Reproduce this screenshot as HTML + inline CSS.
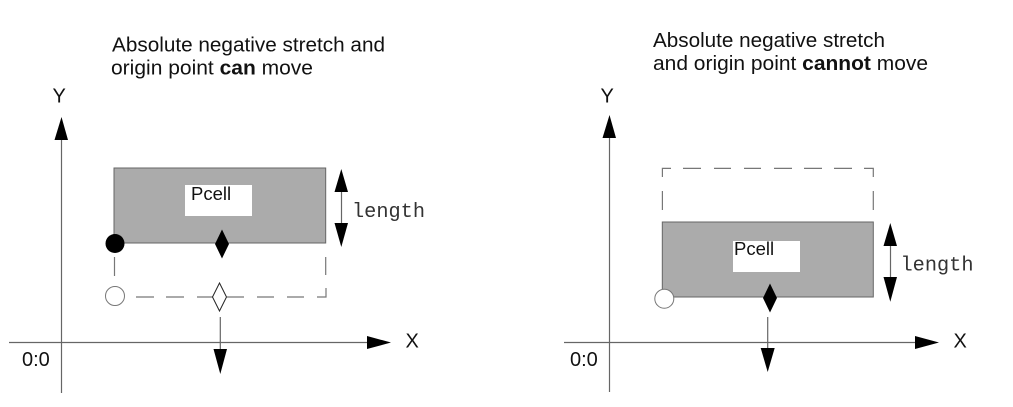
<!DOCTYPE html>
<html>
<head>
<meta charset="utf-8">
<style>
html,body{margin:0;padding:0;background:#fff;}
svg{display:block;}
text{font-family:"Liberation Sans",Arial,sans-serif;fill:#111;}
.m{font-family:"Liberation Mono",monospace;font-size:20px;fill:#333;}
.l{stroke:#666;stroke-width:1.2;fill:none;}
.d{stroke:#777;stroke-width:1.2;fill:none;}
</style>
</head>
<body>
<svg width="1013" height="407" viewBox="0 0 1013 407" xmlns="http://www.w3.org/2000/svg">
<rect width="1013" height="407" fill="#fff"/>

<!-- LEFT -->
<text x="112" y="51.5" font-size="20" textLength="273" lengthAdjust="spacingAndGlyphs">Absolute negative stretch and</text>
<text x="111" y="74.5" font-size="20" textLength="202" lengthAdjust="spacingAndGlyphs">origin point <tspan font-weight="bold">can</tspan> move</text>
<text x="52.500" y="102.500" font-size="20">Y</text>
<text x="405.500" y="347.500" font-size="20">X</text>
<text x="22" y="366" font-size="20">0:0</text>

<path class="l" d="M61.500 140V393M9 342.500H368"/>
<polygon points="61.500,117 54.500,140 68,140" fill="#000"/>
<polygon points="391,342.500 367,336 367,349" fill="#000"/>

<rect x="114" y="168" width="211.700" height="75" fill="#ababab" stroke="#666" stroke-width="1"/>
<rect x="185" y="185" width="67" height="31" fill="#fff"/>
<text x="191" y="200" font-size="18.500">Pcell</text>

<path class="d" d="M114.500 257V276M136 297H154M166 297H184M197 297H213M227 297H244M257 297H274M287 297H304M317 297H326V288M325.700 275V257"/>
<circle cx="115" cy="243.500" r="9.500" fill="#000"/>
<circle cx="115" cy="296" r="9.500" fill="#fff" stroke="#777" stroke-width="1"/>
<polygon points="222,229.500 229,244 222,258.500 215,244" fill="#000"/>
<polygon points="219.500,283 226.500,297 219.500,311 212.500,297" fill="#fff" stroke="#222" stroke-width="1"/>
<path class="l" d="M220.300 317V350"/>
<polygon points="220.300,374 213.500,349 227,349" fill="#000"/>

<path class="l" d="M341.500 192V223"/>
<polygon points="341.300,169 334.500,192 348,192" fill="#000"/>
<polygon points="341.300,247 334.500,223 348,223" fill="#000"/>
<text class="m" x="352" y="217" textLength="73" lengthAdjust="spacingAndGlyphs">length</text>

<!-- RIGHT -->
<text x="653" y="47" font-size="20" textLength="232" lengthAdjust="spacingAndGlyphs">Absolute negative stretch</text>
<text x="653" y="70" font-size="20" textLength="275" lengthAdjust="spacingAndGlyphs">and origin point <tspan font-weight="bold">cannot</tspan> move</text>
<text x="600.500" y="102.500" font-size="20">Y</text>
<text x="953.500" y="347.500" font-size="20">X</text>
<text x="570" y="366" font-size="20">0:0</text>

<path class="l" d="M609.500 138V392M564 342.500H916"/>
<polygon points="609.500,115 602.500,138 616,138" fill="#000"/>
<polygon points="939,342.500 915,336 915,349" fill="#000"/>

<path class="d" d="M662.400 177V168.400H671M683 168.400H701M714 168.400H731M744 168.400H761M774 168.400H792M804 168.400H822M834 168.400H852M864 168.400H873.300V177M662.400 191V210M873.300 191V210"/>

<rect x="662.300" y="222" width="211" height="75" fill="#ababab" stroke="#666" stroke-width="1"/>
<rect x="733" y="241" width="67" height="31" fill="#fff"/>
<text x="734" y="255" font-size="18.500">Pcell</text>

<circle cx="664.300" cy="298.700" r="9.500" fill="#fff" stroke="#777" stroke-width="1"/>
<polygon points="770,283.500 777,298 770,312.500 763,298" fill="#000"/>
<path class="l" d="M767.700 317V349"/>
<polygon points="767.700,372 760.700,348 774.700,348" fill="#000"/>

<path class="l" d="M890.500 246V277"/>
<polygon points="890.300,223 883.500,246 897,246" fill="#000"/>
<polygon points="890.300,301.700 883.500,277 897,277" fill="#000"/>
<text class="m" x="900.500" y="270.700" textLength="73" lengthAdjust="spacingAndGlyphs">length</text>
</svg>
</body>
</html>
